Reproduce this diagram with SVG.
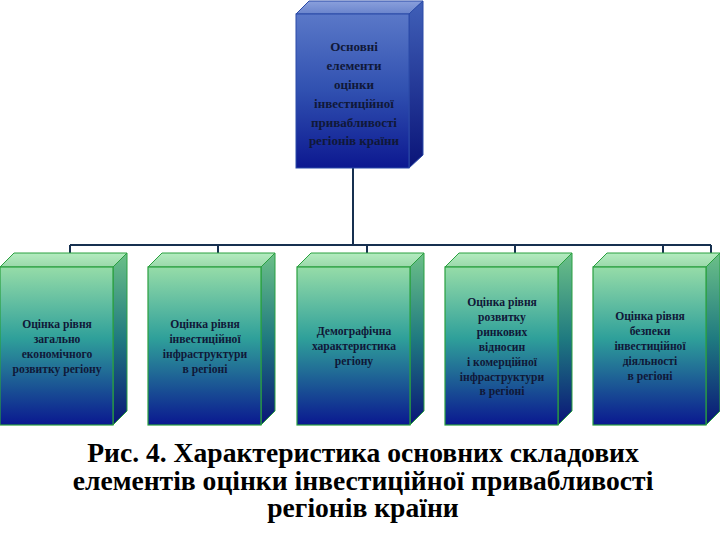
<svg xmlns="http://www.w3.org/2000/svg" width="720" height="540" viewBox="0 0 720 540">
<defs>
<linearGradient id="bF" x1="0" y1="0" x2="0" y2="1"><stop offset="0" stop-color="#5a78c8"/><stop offset="0.5" stop-color="#3050b0"/><stop offset="1" stop-color="#0c1890"/></linearGradient>
<linearGradient id="bS" x1="0" y1="0" x2="0" y2="1"><stop offset="0" stop-color="#4060b8"/><stop offset="1" stop-color="#0a1478"/></linearGradient>
<linearGradient id="bT" x1="0" y1="0" x2="0" y2="1"><stop offset="0" stop-color="#8aa0dc"/><stop offset="1" stop-color="#6a84cc"/></linearGradient>
<linearGradient id="gF" x1="0" y1="0" x2="0" y2="1"><stop offset="0" stop-color="#96dca8"/><stop offset="0.45" stop-color="#2fa09a"/><stop offset="1" stop-color="#0a1890"/></linearGradient>
<linearGradient id="gS" x1="0" y1="0" x2="0" y2="1"><stop offset="0" stop-color="#6cc088"/><stop offset="0.5" stop-color="#1f7a80"/><stop offset="1" stop-color="#0a1478"/></linearGradient>
<linearGradient id="gT" x1="0" y1="0" x2="0" y2="1"><stop offset="0" stop-color="#b4ecc0"/><stop offset="1" stop-color="#9ad8aa"/></linearGradient>
</defs>
<style>
.bf{fill:url(#bF);stroke:#2a4aa8;stroke-width:1}
.bs{fill:url(#bS);stroke:#2a4aa8;stroke-width:1}
.bt{fill:url(#bT);stroke:#2a4aa8;stroke-width:1}
.gf{fill:url(#gF);stroke:#2aa040;stroke-width:1.2}
.gs{fill:url(#gS);stroke:#2aa040;stroke-width:1}
.gt{fill:url(#gT);stroke:#2aa040;stroke-width:1}
.t1{font-family:"Liberation Serif","Times New Roman",serif;font-weight:bold;font-size:13px;fill:#101838;text-anchor:middle}
.t2{font-family:"Liberation Serif","Times New Roman",serif;font-weight:bold;font-size:11.6px;fill:#101838;text-anchor:middle}
.cap{font-family:"Liberation Serif","Times New Roman",serif;font-weight:bold;font-size:27.6px;fill:#000;text-anchor:middle}
.ln{stroke:#173050;stroke-width:2;fill:none}
</style>
<g id="connectors">
<path class="ln" d="M353 168V245M70 245H711M70 245V254M218 245V254M367 245V254M515 245V254M663 245V254M711 245V254"/>
</g>
<g id="root">
<polygon class="bt" points="296,14 309,1 423,1 409,14"/>
<polygon class="bs" points="409,14 423,1 423,155 409,168"/>
<rect class="bf" x="296" y="14" width="113" height="154"/>
<text class="t1" x="354" y="51">Основні</text>
<text class="t1" x="354" y="70">елементи</text>
<text class="t1" x="354" y="89">оцінки</text>
<text class="t1" x="354" y="108">інвестиційної</text>
<text class="t1" x="354" y="127">привабливості</text>
<text class="t1" x="354" y="145">регіонів країни</text>
</g>
<g id="n1">
<polygon class="gt" points="0,267 14,253 127,253 113,267"/>
<polygon class="gs" points="113,267 127,253 127,411 113,425"/>
<rect class="gf" x="0" y="267" width="113" height="158"/>
<text class="t2" x="57" y="328">Оцінка рівня</text>
<text class="t2" x="57" y="343">загально</text>
<text class="t2" x="57" y="358">економічного</text>
<text class="t2" x="57" y="373">розвитку регіону</text>
</g>
<g id="n2">
<polygon class="gt" points="148,267 162,253 275,253 261,267"/>
<polygon class="gs" points="261,267 275,253 275,411 261,425"/>
<rect class="gf" x="148" y="267" width="113" height="158"/>
<text class="t2" x="205" y="328">Оцінка рівня</text>
<text class="t2" x="205" y="343">інвестиційної</text>
<text class="t2" x="205" y="358">інфраструктури</text>
<text class="t2" x="205" y="373">в регіоні</text>
</g>
<g id="n3">
<polygon class="gt" points="297,267 311,253 424,253 410,267"/>
<polygon class="gs" points="410,267 424,253 424,411 410,425"/>
<rect class="gf" x="297" y="267" width="113" height="158"/>
<text class="t2" x="354" y="335">Демографічна</text>
<text class="t2" x="354" y="350">характеристика</text>
<text class="t2" x="354" y="365">регіону</text>
</g>
<g id="n4">
<polygon class="gt" points="445,267 459,253 572,253 558,267"/>
<polygon class="gs" points="558,267 572,253 572,411 558,425"/>
<rect class="gf" x="445" y="267" width="113" height="158"/>
<text class="t2" x="502" y="306">Оцінка рівня</text>
<text class="t2" x="502" y="321">розвитку</text>
<text class="t2" x="502" y="336">ринкових</text>
<text class="t2" x="502" y="351">відносин</text>
<text class="t2" x="502" y="366">і комерційної</text>
<text class="t2" x="502" y="381">інфраструктури</text>
<text class="t2" x="502" y="395">в регіоні</text>
</g>
<g id="n5">
<polygon class="gt" points="593,267 607,253 720,253 706,267"/>
<polygon class="gs" points="706,267 720,253 720,411 706,425"/>
<rect class="gf" x="593" y="267" width="113" height="158"/>
<text class="t2" x="650" y="320">Оцінка рівня</text>
<text class="t2" x="650" y="335">безпеки</text>
<text class="t2" x="650" y="350">інвестиційної</text>
<text class="t2" x="650" y="365">діяльності</text>
<text class="t2" x="650" y="380">в регіоні</text>
</g>
<g id="caption">
<text class="cap" x="363" y="462">Рис. 4. Характеристика основних складових</text>
<text class="cap" x="363" y="490">елементів оцінки інвестиційної привабливості</text>
<text class="cap" x="363" y="517">регіонів країни</text>
</g>
</svg>
